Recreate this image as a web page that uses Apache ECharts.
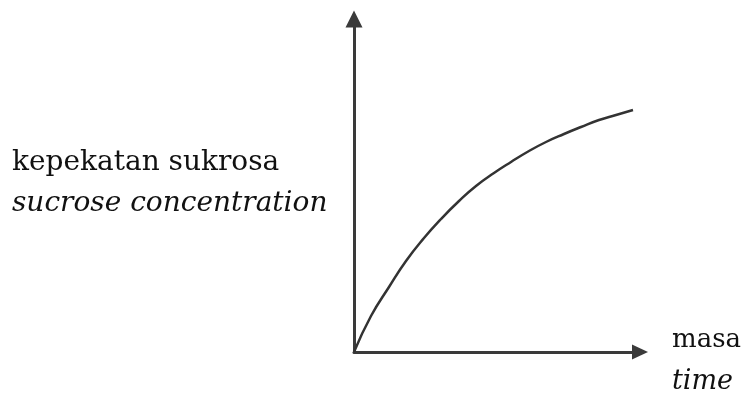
<!DOCTYPE html>
<html>
<head>
<meta charset="utf-8">
<script src="https://cdn.jsdelivr.net/npm/echarts@6/dist/echarts.min.js"></script>
<style>
  html, body { margin: 0; padding: 0; background: #fff; }
  #chart { width: 754px; height: 393px; }
</style>
</head>
<body>
<div id="chart"></div>
<script>
// curve (arbitrary units, no ticks shown)
var timeVals = [0, 17, 35, 52, 70, 87, 105, 122, 140, 157, 175, 192, 210, 227, 245, 262, 279];
var concVals = [0, 36, 65, 91, 114, 133, 151, 166, 179, 190, 201, 210, 218, 225, 232, 237, 242];

var yLabel1 = 'kepekatan sukrosa';
var yLabel2 = 'sucrose concentration';
var xLabel1 = 'masa';
var xLabel2 = 'time';

var points = [];
for (var i = 0; i < timeVals.length; i++) {
    points.push([timeVals[i], concVals[i]]);
}

var myChart = echarts.init(document.getElementById('chart'));
var axisColor = '#3a3a3a';
var option = {
    animation: false,
    grid: {
        left: 354,
        right: 114,
        top: 19,
        bottom: 41
    },
    xAxis: {
        type: 'value',
        min: 0,
        max: 286,
        axisLine: {
            show: true,
            symbol: ['none', 'triangle'],
            symbolSize: [15, 16],
            lineStyle: { color: axisColor, width: 3 }
        },
        axisTick: { show: false },
        axisLabel: { show: false },
        splitLine: { show: false }
    },
    yAxis: {
        type: 'value',
        min: 0,
        max: 333,
        axisLine: {
            show: true,
            symbol: ['none', 'triangle'],
            symbolSize: [17, 17],
            lineStyle: { color: axisColor, width: 3 }
        },
        axisTick: { show: false },
        axisLabel: { show: false },
        splitLine: { show: false }
    },
    graphic: [
        {
            type: 'text', left: 12, top: 149,
            style: { text: yLabel1, font: '28px "DejaVu Serif"', fill: '#111' }
        },
        {
            type: 'text', left: 12, top: 190,
            style: { text: yLabel2, font: 'italic 28px "DejaVu Serif"', fill: '#111' }
        },
        {
            type: 'text', left: 672, top: 327,
            style: { text: xLabel1, font: '26px "DejaVu Serif"', fill: '#111' }
        },
        {
            type: 'text', left: 672, top: 368,
            style: { text: xLabel2, font: 'italic 27px "DejaVu Serif"', fill: '#111' }
        }
    ],
    series: [
        {
            type: 'line',
            data: points,
            smooth: true,
            showSymbol: false,
            lineStyle: { color: '#333', width: 2.5 }
        }
    ]
};
myChart.setOption(option);
</script>
</body>
</html>
